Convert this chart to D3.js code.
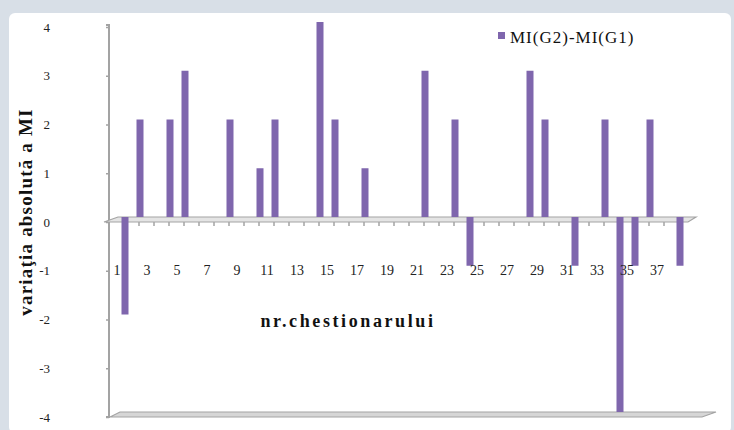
<!DOCTYPE html>
<html>
<head>
<meta charset="utf-8">
<script src="https://cdn.jsdelivr.net/npm/d3@7"></script>
<style>
  html, body { margin: 0; padding: 0; background: #d8dfe7; }
  svg { display: block; }
</style>
</head>
<body>
<svg id="chart" width="734" height="430"></svg>
<script>
// Questionnaire numbers and the absolute variation of MI for each one
const categories = d3.range(1, 39);
const values = [
  -2, 2, 0, 2, 3, 0, 0, 2, 0, 1,
   2, 0, 0, 4, 2, 0, 1, 0, 0, 0,
   3, 0, 2, -1, 0, 0, 0, 3, 2, 0,
  -1, 0, 2, -4, -1, 2, 0, -1
];
const yTicks = [-4, -3, -2, -1, 0, 1, 2, 3, 4];
const xTickLabels = d3.range(1, 38, 2);
const seriesName = "MI(G2)-MI(G1)";
const yTitle = "variaţia absolută a MI";
const xTitle = "nr.chestionarului";

const svg = d3.select("#chart");
const serif = "Liberation Serif";
const barColor = "#7f66ad";
const axisGray = "#a3a3a3";

// chart panel
svg.append("rect")
  .attr("x", 9).attr("y", 13).attr("width", 722).attr("height", 420)
  .attr("rx", 6).attr("fill", "#ffffff");

// front value scale and category scale
const y = d3.scaleLinear().domain([-4, 4]).range([417, 27]);
const x = d3.scaleLinear().domain([1, 38]).range([117, 672]);
// depth offset of the 3-D columns behind the front plane
const depthX = 8, depthY = -5;

// bottom floor slab
const yb = y(-4);
svg.append("path")
  .attr("d", `M110,${yb} L${x(38) + 30},${yb} L${x(38) + 44},${yb - 5} L${120},${yb - 5} Z`)
  .attr("fill", "#d6d6d6").attr("stroke", axisGray).attr("stroke-width", 1.2);

// value axis: line, tick marks and labels
const fmt = d => d < 0 ? "-" + Math.abs(d) : String(d);
const yAxis = d3.axisLeft(y).tickValues(yTicks).tickSize(3).tickPadding(56).tickFormat(fmt);
const gy = svg.append("g").attr("transform", "translate(109,0)").call(yAxis);
gy.select(".domain").attr("stroke", axisGray).attr("stroke-width", 2)
  .attr("d", `M-3,${y(4) - 2}H0V${y(-4)}H-3`);
gy.selectAll(".tick line").attr("stroke", axisGray).attr("stroke-width", 1.5);
gy.selectAll(".tick text")
  .attr("fill", "#222")
  .attr("font-family", serif).attr("font-size", 13);

// axis titles
svg.append("text")
  .attr("transform", "translate(32,212) rotate(-90)")
  .attr("text-anchor", "middle")
  .attr("fill", "#111")
  .attr("font-family", serif).attr("font-size", 19).attr("font-weight", "bold")
  .attr("letter-spacing", 1.2)
  .text(yTitle);

svg.append("text")
  .attr("x", 348).attr("y", 327)
  .attr("text-anchor", "middle")
  .attr("fill", "#111")
  .attr("font-family", serif).attr("font-size", 18).attr("font-weight", "bold")
  .attr("letter-spacing", 2.6)
  .text(xTitle);

// zero plane (category axis)
const y0 = y(0);
svg.append("path")
  .attr("d", `M104,${y0} L${x(38) + 16},${y0} L${x(38) + 24},${y0 + depthY} L${118},${y0 + depthY} Z`)
  .attr("fill", "#e4e4e4").attr("stroke", axisGray).attr("stroke-width", 1.2);

// category tick marks
svg.append("g").selectAll("line")
  .data(categories)
  .join("line")
  .attr("x1", d => x(d) + 7).attr("x2", d => x(d) + 7)
  .attr("y1", y0).attr("y2", y0 + 4)
  .attr("stroke", axisGray).attr("stroke-width", 1.5);

// columns
const bw = 7;
svg.append("g").selectAll("rect")
  .data(values.map((v, i) => ({ c: categories[i], v })).filter(d => d.v !== 0))
  .join("rect")
  .attr("x", d => x(d.c) + depthX - bw / 2)
  .attr("y", d => Math.min(y(d.v), y0) + depthY)
  .attr("width", bw)
  .attr("height", d => Math.abs(y(d.v) - y0))
  .attr("fill", barColor);

// category labels
svg.append("g").selectAll("text")
  .data(xTickLabels)
  .join("text")
  .attr("x", d => x(d)).attr("y", 275)
  .attr("text-anchor", "middle")
  .attr("fill", "#222")
  .attr("font-family", serif).attr("font-size", 14)
  .text(d => d);

// legend
const lg = svg.append("g").attr("transform", "translate(498,32)");
lg.append("rect").attr("width", 7).attr("height", 7).attr("fill", barColor);
lg.append("text")
  .attr("x", 12).attr("y", 11)
  .attr("fill", "#111")
  .attr("font-family", serif).attr("font-size", 17)
  .attr("letter-spacing", 1)
  .text(seriesName);
</script>
</body>
</html>
